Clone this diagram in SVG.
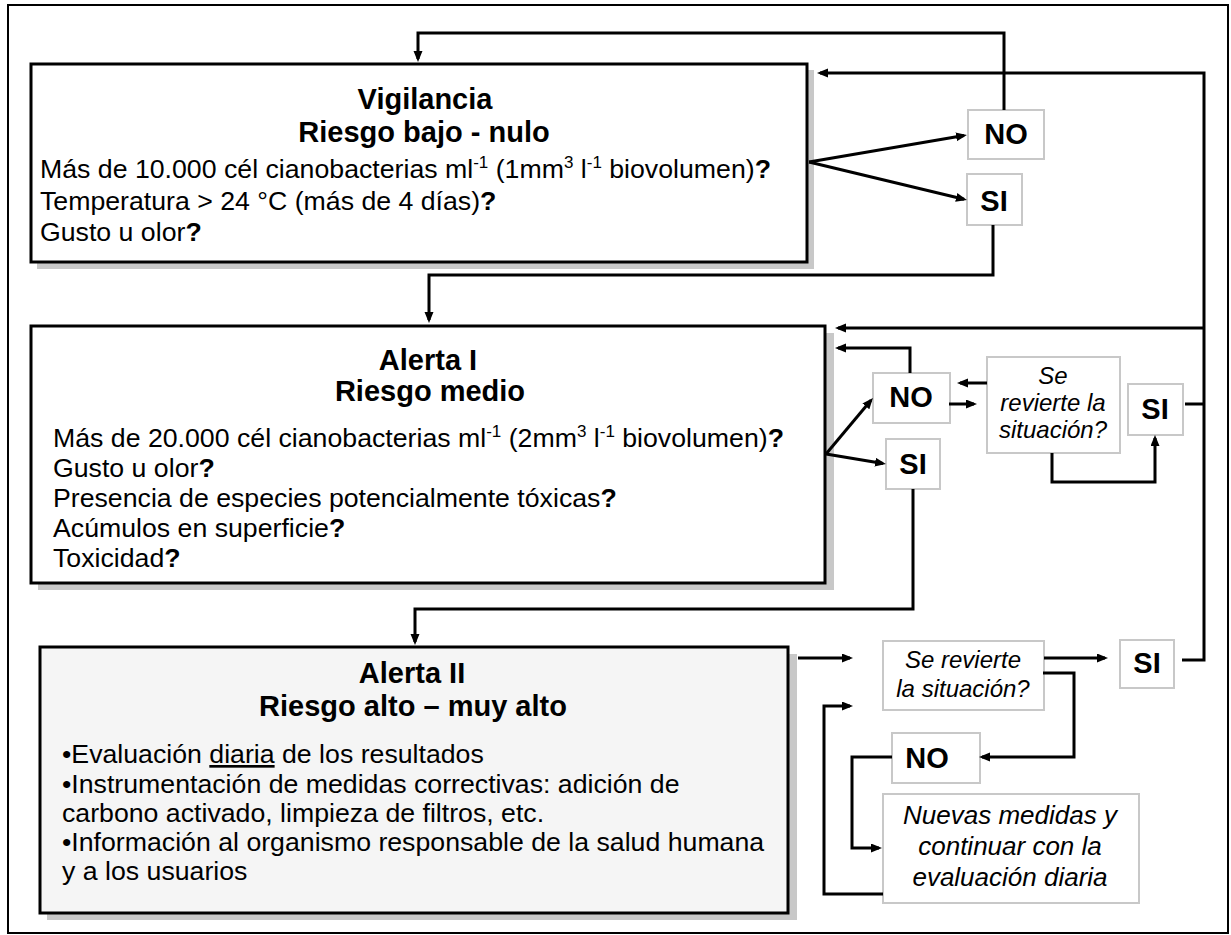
<svg xmlns="http://www.w3.org/2000/svg" width="1231" height="935" viewBox="0 0 1231 935">
<style>
text{font-family:"Liberation Sans",Arial,sans-serif;fill:#000}
.t{font-size:29px;font-weight:bold;text-anchor:middle}
.b{font-size:26.7px}
.q{font-weight:bold}
.sup{font-size:17px}
.lbl{font-size:29px;font-weight:bold;text-anchor:middle}
.it{font-style:italic;text-anchor:middle}
.main{fill:#fff;stroke:#000;stroke-width:3}
.shadow{fill:#c8c8c8}
.gbox{fill:#fff;stroke:#c8c8c8;stroke-width:2}
.c{fill:none;stroke:#000;stroke-width:3}
.ca{fill:none;stroke:#000;stroke-width:3;marker-end:url(#ah)}
</style>
<defs>
<marker id="ah" markerUnits="userSpaceOnUse" markerWidth="12" markerHeight="10" refX="8" refY="4.5" orient="auto">
<path d="M0,0 L11,4.5 L0,9 z" fill="#000"/>
</marker>
</defs>
<rect x="8" y="5" width="1220" height="928" fill="#fff" stroke="#000" stroke-width="2"/>

<g id="vigilancia">
<rect class="shadow" x="37" y="70" width="777" height="199"/>
<rect class="main" x="31" y="64" width="776" height="198"/>
<text class="t" x="425" y="109">Vigilancia</text>
<text class="t" x="424" y="142">Riesgo bajo - nulo</text>
<text class="b" x="40" y="178">Más de 10.000 cél cianobacterias ml<tspan class="sup" dy="-10">-1</tspan><tspan dy="10"> (1mm</tspan><tspan class="sup" dy="-10">3</tspan><tspan dy="10"> l</tspan><tspan class="sup" dy="-10">-1</tspan><tspan dy="10"> biovolumen)</tspan><tspan class="q">?</tspan></text>
<text class="b" x="40" y="210">Temperatura &gt; 24 °C (más de 4 días)<tspan class="q">?</tspan></text>
<text class="b" x="40" y="241">Gusto u olor<tspan class="q">?</tspan></text>
</g>

<g id="alerta1">
<rect class="shadow" x="38" y="333" width="796" height="257"/>
<rect class="main" x="31" y="326" width="794" height="257"/>
<text class="t" x="428" y="370">Alerta I</text>
<text class="t" x="430" y="401">Riesgo medio</text>
<text class="b" x="53" y="447">Más de 20.000 cél cianobacterias ml<tspan class="sup" dy="-10">-1</tspan><tspan dy="10"> (2mm</tspan><tspan class="sup" dy="-10">3</tspan><tspan dy="10"> l</tspan><tspan class="sup" dy="-10">-1</tspan><tspan dy="10"> biovolumen)</tspan><tspan class="q">?</tspan></text>
<text class="b" x="53" y="477">Gusto u olor<tspan class="q">?</tspan></text>
<text class="b" x="53" y="507">Presencia de especies potencialmente tóxicas<tspan class="q">?</tspan></text>
<text class="b" x="53" y="537">Acúmulos en superficie<tspan class="q">?</tspan></text>
<text class="b" x="53" y="567">Toxicidad<tspan class="q">?</tspan></text>
</g>

<g id="alerta2">
<rect class="shadow" x="47" y="654" width="750" height="266"/>
<rect class="main" x="40" y="647" width="748" height="266" style="fill:#f5f5f5"/>
<text class="t" x="412" y="683">Alerta II</text>
<text class="t" x="413" y="716">Riesgo alto – muy alto</text>
<text class="b" x="62" y="763">•Evaluación <tspan text-decoration="underline">diaria</tspan> de los resultados</text>
<text class="b" x="62" y="793">•Instrumentación de medidas correctivas: adición de</text>
<text class="b" x="62" y="822">carbono activado, limpieza de filtros, etc.</text>
<text class="b" x="62" y="851">•Información al organismo responsable de la salud humana</text>
<text class="b" x="62" y="880">y a los usuarios</text>
</g>

<g id="no1"><rect class="gbox" x="968" y="110" width="76" height="49"/><text class="lbl" x="1006" y="144">NO</text></g>
<g id="si1"><rect class="gbox" x="967" y="174" width="55" height="51"/><text class="lbl" x="994" y="211">SI</text></g>
<g id="no2"><rect class="gbox" x="873" y="373" width="77" height="50"/><text class="lbl" x="911" y="407">NO</text></g>
<g id="si2"><rect class="gbox" x="886" y="439" width="54" height="50"/><text class="lbl" x="913" y="474">SI</text></g>
<g id="revierte1"><rect class="gbox" x="987" y="357" width="133" height="96"/>
<text class="it" font-size="24" x="1053" y="384">Se</text>
<text class="it" font-size="24" x="1053" y="411">revierte la</text>
<text class="it" font-size="24" x="1053" y="438">situación?</text></g>
<g id="si3"><rect class="gbox" x="1128" y="384" width="55" height="51"/><text class="lbl" x="1155" y="419">SI</text></g>
<g id="revierte2"><rect class="gbox" x="883" y="641" width="161" height="69"/>
<text class="it" font-size="24" x="963" y="668">Se revierte</text>
<text class="it" font-size="24" x="963" y="697">la situación?</text></g>
<g id="si4"><rect class="gbox" x="1120" y="640" width="54" height="48"/><text class="lbl" x="1147" y="673">SI</text></g>
<g id="no3"><rect class="gbox" x="892" y="733" width="88" height="50"/><text class="lbl" x="927" y="768">NO</text></g>
<g id="nuevas"><rect class="gbox" x="883" y="794" width="256" height="109"/>
<text class="it" font-size="26" x="1010" y="824">Nuevas medidas y</text>
<text class="it" font-size="26" x="1010" y="855">continuar con la</text>
<text class="it" font-size="26" x="1010" y="886">evaluación diaria</text></g>

<g id="connectors">
<path class="ca" d="M1004,110 V33 H418 V59"/>
<path class="ca" d="M809,162 L964,135.5"/>
<path class="ca" d="M809,162 L964,199.3"/>
<path class="ca" d="M993,225 V275 H429 V320"/>
<path class="ca" d="M1182,660 H1204 V73 H820"/>
<path class="ca" d="M1204,328 H838"/>
<path class="c" d="M1185,404 H1204"/>
<path class="ca" d="M910,373 V348 H838"/>
<path class="ca" d="M826,454 L871,400.3"/>
<path class="ca" d="M826,454 L883,463.5"/>
<path class="ca" d="M987,383 H960"/>
<path class="ca" d="M949,404 H974"/>
<path class="ca" d="M1052,453 V482 H1155 V438"/>
<path class="ca" d="M913,489 V609 H415 V642"/>
<path class="ca" d="M798,658 H850"/>
<path class="ca" d="M1044,658 H1105"/>
<path class="ca" d="M1043,673 H1074 V757 H982"/>
<path class="ca" d="M892,757 H852 V848 H879"/>
<path class="ca" d="M883,894 H824 V706 H850"/>
</g>
</svg>
